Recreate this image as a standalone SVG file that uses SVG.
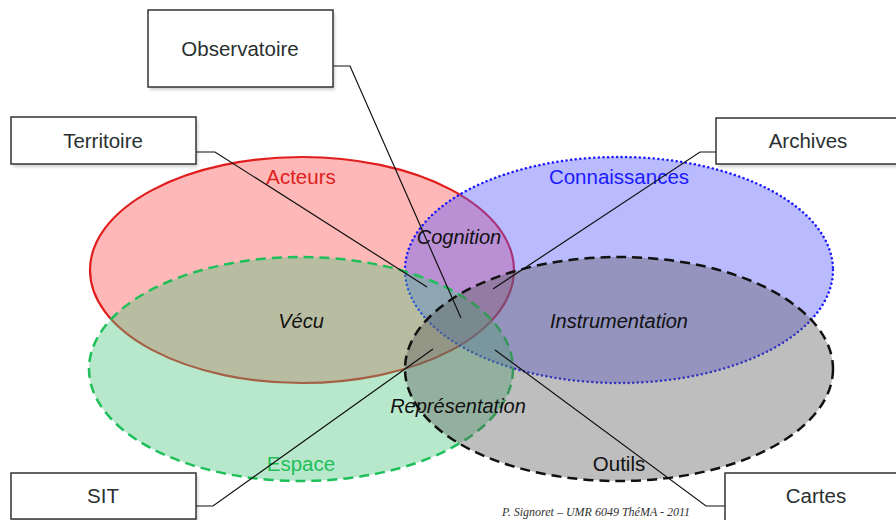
<svg xmlns="http://www.w3.org/2000/svg" width="896" height="520" viewBox="0 0 896 520">
<defs>
<style>
.box{fill:#fff;stroke:#333;stroke-width:1.5}
.shadow{fill:#000;opacity:0.18}
.bl{font-family:"Liberation Sans",Arial,sans-serif;font-size:20.5px;fill:#2a3030;text-anchor:middle}
.cat{font-family:"Liberation Sans",Arial,sans-serif;font-size:20.5px;text-anchor:middle}
.it{font-family:"Liberation Sans",Arial,sans-serif;font-size:20px;font-style:italic;fill:#111;text-anchor:middle}
.conn{fill:none;stroke:#111;stroke-width:1.2}
</style>
<filter id="blur" x="-10%" y="-10%" width="120%" height="130%"><feGaussianBlur stdDeviation="1.5"/></filter>
</defs>
<rect width="896" height="520" fill="#fff"/>
<g id="acteurs">
<ellipse cx="302" cy="270" rx="212" ry="113" fill="#ff0000" fill-opacity="0.28" stroke="#e01e1e" stroke-width="2.2"/>
</g>
<g id="connaissances">
<ellipse cx="619" cy="270" rx="214" ry="113" fill="#5252ff" fill-opacity="0.4" stroke="#1a1aff" stroke-width="2.5" stroke-dasharray="0.1 4.5" stroke-linecap="round"/>
</g>
<g id="espace">
<ellipse cx="301" cy="369" rx="212" ry="112" fill="#4dc67f" fill-opacity="0.4" stroke="#1fbf5a" stroke-width="2.5" stroke-dasharray="10 6"/>
</g>
<g id="outils">
<ellipse cx="619" cy="369" rx="214" ry="112" fill="#5c5c5c" fill-opacity="0.4" stroke="#111" stroke-width="2.5" stroke-dasharray="10 6"/>
</g>
<g id="labels">
<text class="cat" x="301" y="184" fill="#e01e1e">Acteurs</text>
<text class="cat" x="619" y="184" fill="#1a1aff">Connaissances</text>
<text class="cat" x="301" y="471" fill="#1fbf5a">Espace</text>
<text class="cat" x="619" y="471" fill="#111">Outils</text>
<text class="it" x="459" y="244">Cognition</text>
<text class="it" x="301" y="328">Vécu</text>
<text class="it" x="619" y="328">Instrumentation</text>
<text class="it" x="458" y="413">Représentation</text>
</g>
<g id="connectors">
<polyline class="conn" points="333,66 350,66 461,318"/>
<polyline class="conn" points="196,152 215,152 427,287"/>
<polyline class="conn" points="716,152 700,152 493,289"/>
<polyline class="conn" points="196,506 213,506 433,349"/>
<polyline class="conn" points="725,506 706,506 495,350"/>
</g>
<g id="observatoire">
<rect class="shadow" x="150" y="13" width="185" height="77" filter="url(#blur)"/>
<rect class="box" x="148" y="10" width="185" height="77"/>
<text class="bl" x="240" y="56">Observatoire</text>
</g>
<g id="territoire">
<rect class="shadow" x="13" y="120" width="185" height="47" filter="url(#blur)"/>
<rect class="box" x="11" y="117" width="185" height="47"/>
<text class="bl" x="103" y="148">Territoire</text>
</g>
<g id="archives">
<rect class="shadow" x="718" y="121" width="190" height="46" filter="url(#blur)"/>
<rect class="box" x="716" y="118" width="190" height="46"/>
<text class="bl" x="808" y="148">Archives</text>
</g>
<g id="sit">
<rect class="shadow" x="13" y="476" width="185" height="47" filter="url(#blur)"/>
<rect class="box" x="11" y="473" width="185" height="46"/>
<text class="bl" x="103" y="503">SIT</text>
</g>
<g id="cartes">
<rect class="shadow" x="727" y="476" width="185" height="47" filter="url(#blur)"/>
<rect class="box" x="725" y="473" width="185" height="50"/>
<text class="bl" x="816" y="503">Cartes</text>
</g>
<text x="596" y="516" font-family="'Liberation Serif','Times New Roman',serif" font-size="12" font-style="italic" fill="#333" text-anchor="middle">P. Signoret – UMR 6049 ThéMA - 2011</text>
</svg>
